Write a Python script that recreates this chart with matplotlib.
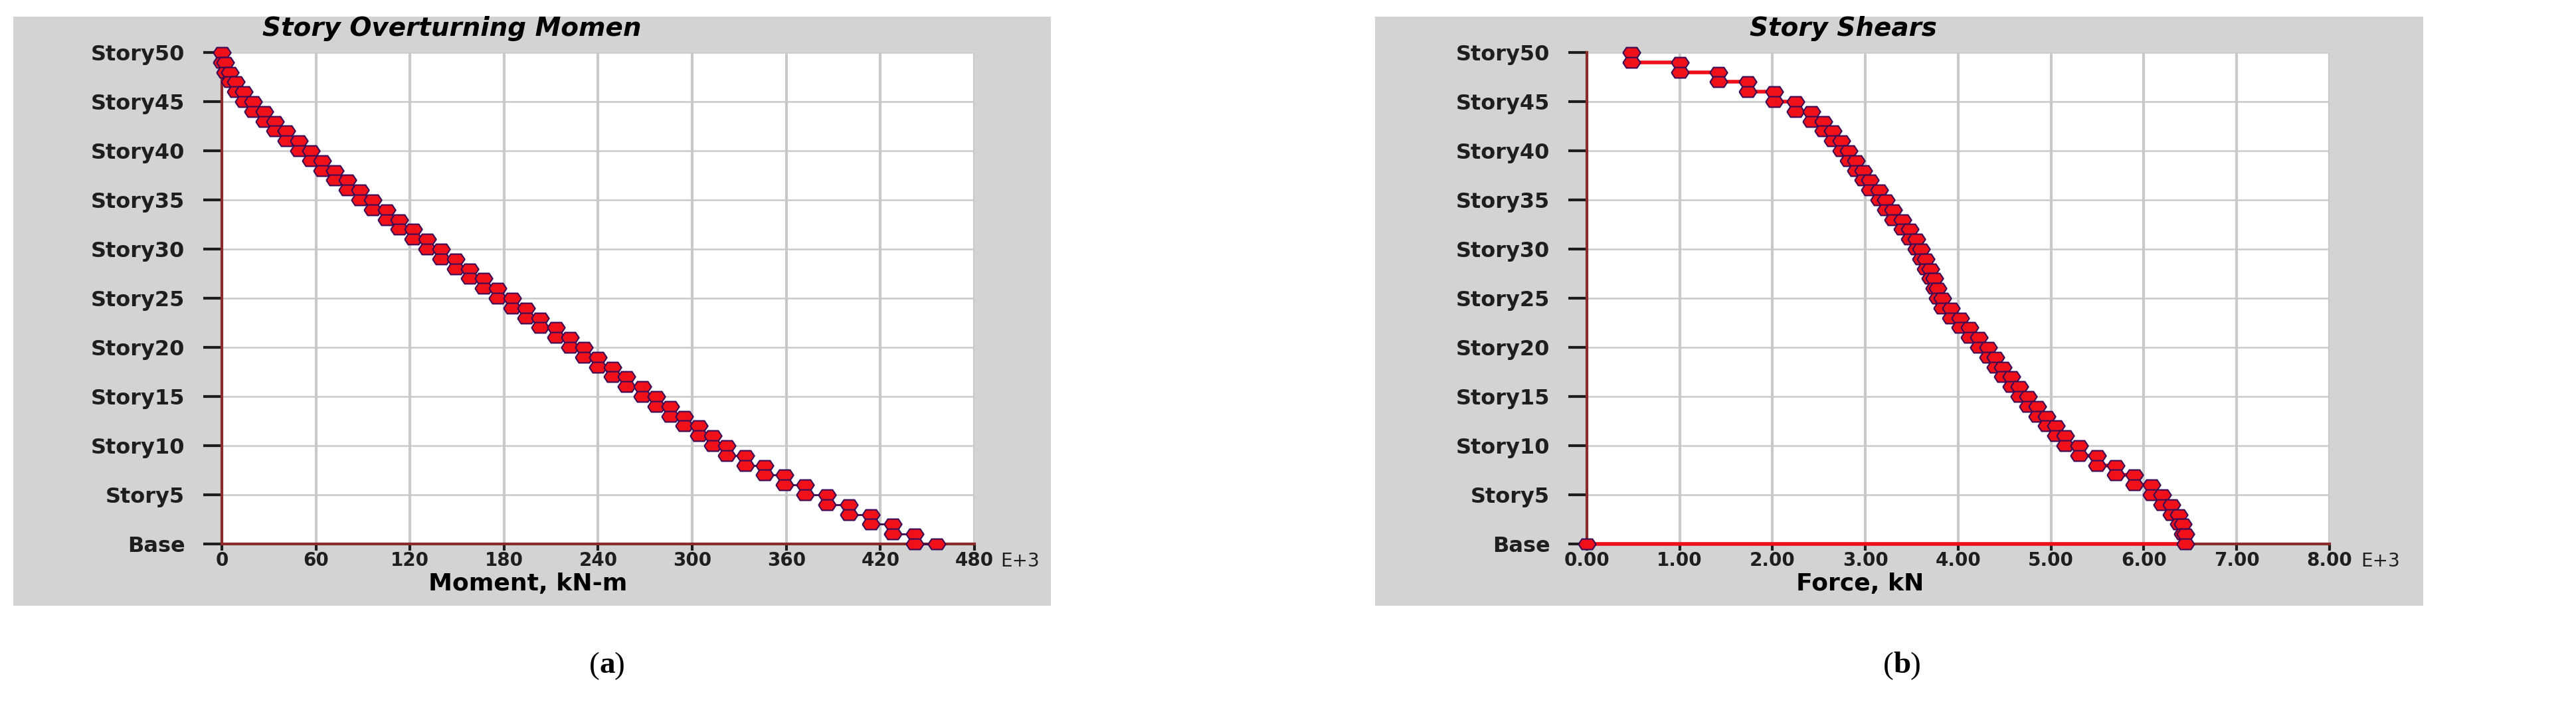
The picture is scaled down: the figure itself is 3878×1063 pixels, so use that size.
import matplotlib
matplotlib.use("Agg")
import matplotlib.pyplot as plt
from matplotlib.patches import Rectangle

plt.rcParams['font.family'] = ['DejaVu Sans']

# story levels: 0 = Base, 50 = Story50
story_ticks = [0, 5, 10, 15, 20, 25, 30, 35, 40, 45, 50]
story_labels = ["Base", "Story5", "Story10", "Story15", "Story20", "Story25",
                "Story30", "Story35", "Story40", "Story45", "Story50"]

# overturning moment at each level, Base..Story50 (E+3 kN-m)
moment = [456, 442, 428, 414, 400, 386, 372, 359, 346, 334,
          322, 313, 304, 295, 286, 277, 268, 258, 249, 240,
          231, 222, 213, 203, 194, 185, 176, 167, 158, 149,
          140, 131, 122, 113, 105, 96, 88, 80, 72, 64,
          57, 49, 41, 34, 27, 20, 14, 9, 5, 2, 0]

# story shear for Story1..Story50 (E+3 kN)
shear = [6.45, 6.42, 6.38, 6.30, 6.20, 6.08, 5.90, 5.70, 5.50, 5.30,
         5.15, 5.05, 4.95, 4.85, 4.75, 4.66, 4.57, 4.48, 4.40, 4.32,
         4.22, 4.12, 4.02, 3.92, 3.83, 3.78, 3.74, 3.70, 3.65, 3.60,
         3.55, 3.48, 3.40, 3.30, 3.22, 3.15, 3.05, 2.98, 2.90, 2.82,
         2.74, 2.65, 2.55, 2.42, 2.25, 2.02, 1.73, 1.42, 1.00, 0.48]

moment_ticks = [0, 60, 120, 180, 240, 300, 360, 420, 480]
force_ticks = [0, 1, 2, 3, 4, 5, 6, 7, 8]
force_labels = ["%.2f" % v for v in force_ticks]

RED = "#f0101a"
EDGE = "#3b0a55"
AXIS = "#8a2a2a"
GRID = "#c9c9c9"
PANEL = "#d3d3d3"
INK = "#1e1e1e"

# wide flat marker, like the ETABS point symbol
MARK = [(-1, 0), (-0.6, 0.6), (0.6, 0.6), (1, 0), (0.6, -0.6),
        (-0.6, -0.6), (-1, 0)]


def step_moment(vals):
    xs, ys = [], []
    for lev in range(len(vals) - 1, 0, -1):
        xs += [vals[lev], vals[lev]]
        ys += [lev, lev - 1]
    xs.append(vals[0])
    ys.append(0)
    return xs, ys


def step_shear(vals):
    xs, ys = [], []
    for i in range(len(vals), 0, -1):
        xs += [vals[i - 1], vals[i - 1]]
        ys += [i, i - 1]
    xs.append(0)
    ys.append(0)
    return xs, ys


def style_axes(ax, xmax, xticks, xlabels):
    ax.set_facecolor("white")
    ax.set_xlim(0, xmax)
    ax.set_ylim(0, 50)
    ax.set_xticks(xticks)
    ax.set_xticklabels(xlabels)
    ax.set_yticks(story_ticks)
    ax.set_yticklabels(story_labels)
    for s in ["top", "right"]:
        ax.spines[s].set_visible(False)
    for s in ["left", "bottom"]:
        ax.spines[s].set_color(AXIS)
        ax.spines[s].set_linewidth(3)
    ax.grid(True, axis="x", color=GRID, lw=3)
    ax.grid(True, axis="y", color=GRID, lw=1.8)
    ax.set_axisbelow(True)
    ax.tick_params(axis="x", length=7, width=3, color=INK, pad=1,
                   labelsize=20)
    ax.tick_params(axis="y", length=20, width=3, color=INK, pad=20,
                   labelsize=23)
    for lab in ax.get_xticklabels() + ax.get_yticklabels():
        lab.set_fontweight("bold")
        lab.set_color(INK)


fig = plt.figure(figsize=(38.78, 10.63), dpi=100)

# gray chart panels
fig.patches.append(Rectangle((0.0052, 0.142), 0.4028, 0.8345, transform=fig.transFigure,
                             facecolor=PANEL, edgecolor="none", zorder=-10))
fig.patches.append(Rectangle((0.5338, 0.142), 0.4069, 0.8345, transform=fig.transFigure,
                             facecolor=PANEL, edgecolor="none", zorder=-10))

# (a) overturning moment
ax1 = fig.add_axes([0.0861, 0.2295, 0.2922, 0.6962])
style_axes(ax1, 480, moment_ticks, [str(v) for v in moment_ticks])
mx, my = step_moment(moment)
ax1.plot(mx, my, color=EDGE, lw=2, zorder=3, clip_on=False)
ax1.plot(mx, my, ls="none", marker=MARK, ms=19, mfc=RED, mec=EDGE, mew=1.5,
         zorder=4, clip_on=False)

# (b) story shears
ax2 = fig.add_axes([0.616, 0.2295, 0.2883, 0.6962])
style_axes(ax2, 8, force_ticks, force_labels)
sx, sy = step_shear(shear)
ax2.plot(sx, sy, color=RED, lw=4, zorder=3, clip_on=False)
ax2.plot(sx, sy, ls="none", marker=MARK, ms=19, mfc=RED, mec=EDGE, mew=1.5,
         zorder=4, clip_on=False)

# titles and labels
fig.text(0.1754, 0.960, "Story Overturning Momen", ha="center", va="center",
         fontsize=28, fontweight="bold", style="italic")
fig.text(0.7155, 0.960, "Story Shears", ha="center", va="center",
         fontsize=28, fontweight="bold", style="italic")
fig.text(0.205, 0.189, "Moment, kN-m", ha="center", va="top",
         fontsize=26, fontweight="bold")
fig.text(0.722, 0.189, "Force, kN", ha="center", va="top",
         fontsize=26, fontweight="bold")
fig.text(0.3885, 0.2055, "E+3", ha="left", va="center", fontsize=20,
         color=INK)
fig.text(0.9165, 0.2055, "E+3", ha="left", va="center", fontsize=20,
         color=INK)

fig.text(0.2328, 0.057, "(", ha="right", va="center", fontsize=34,
         family="Liberation Serif")
fig.text(0.2328, 0.057, "a", ha="left", va="center", fontsize=34,
         family="Liberation Serif", fontweight="bold")
fig.text(0.2385, 0.057, ")", ha="left", va="center", fontsize=34,
         family="Liberation Serif")
fig.text(0.735, 0.057, "(", ha="right", va="center", fontsize=34,
         family="Liberation Serif")
fig.text(0.735, 0.057, "b", ha="left", va="center", fontsize=34,
         family="Liberation Serif", fontweight="bold")
fig.text(0.7415, 0.057, ")", ha="left", va="center", fontsize=34,
         family="Liberation Serif")

fig.savefig("out.png", dpi=100, facecolor="white")
